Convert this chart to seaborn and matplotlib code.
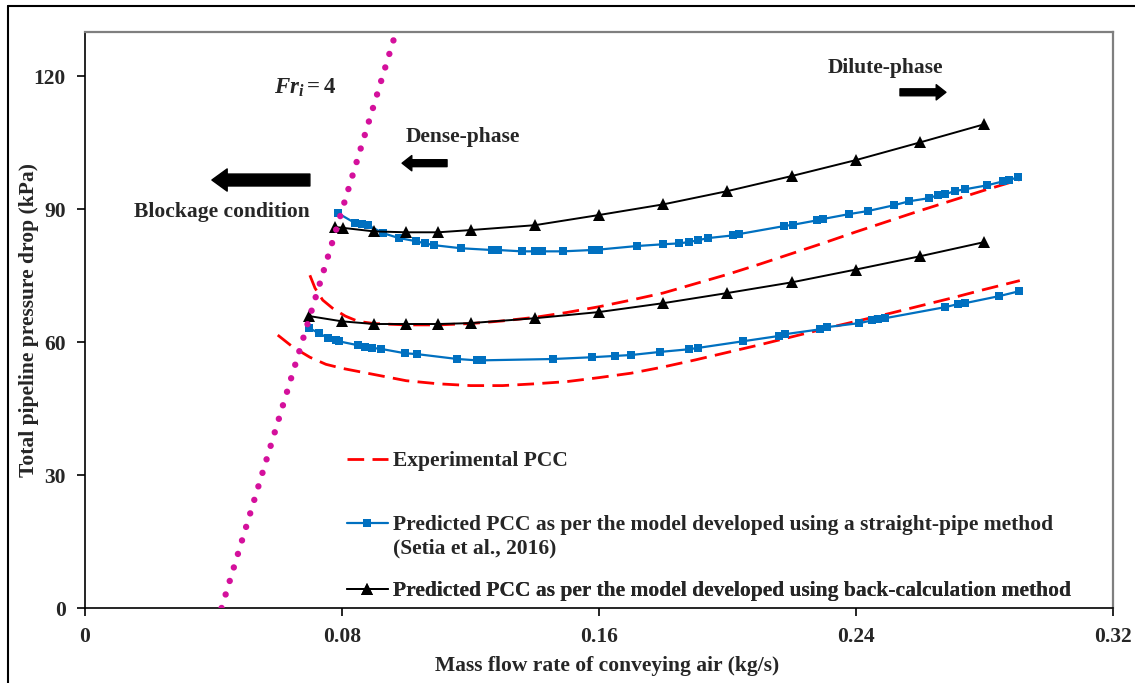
import matplotlib
matplotlib.use("Agg")
import matplotlib.pyplot as plt
from matplotlib.lines import Line2D
import pandas as pd
import seaborn as sns

# Experimental pressure conveying characteristics (two solids flow rates)
exp_hi_air = [0.070, 0.0716, 0.074, 0.077, 0.081, 0.085, 0.090, 0.100, 0.110, 0.120,
              0.130, 0.140, 0.150, 0.160, 0.170, 0.180, 0.190, 0.200, 0.210, 0.220,
              0.230, 0.240, 0.250, 0.260, 0.270, 0.280, 0.291]
exp_hi_dp = [75.1, 72.2, 69.5, 67.7, 65.9, 64.7, 64.2, 63.9, 63.9, 64.2,
             64.8, 65.6, 66.7, 68.0, 69.5, 71.1, 73.2, 75.3, 77.6, 80.0,
             82.4, 84.9, 87.3, 89.7, 92.0, 94.3, 96.7]
exp_lo_air = [0.060, 0.0647, 0.070, 0.075, 0.080, 0.090, 0.100, 0.110, 0.120, 0.130,
              0.140, 0.150, 0.160, 0.170, 0.180, 0.190, 0.200, 0.210, 0.220, 0.230,
              0.240, 0.250, 0.260, 0.270, 0.280, 0.291]
exp_lo_dp = [61.6, 58.9, 56.6, 55.0, 54.1, 52.7, 51.3, 50.6, 50.2, 50.2,
             50.6, 51.1, 52.0, 53.0, 54.4, 56.0, 57.7, 59.4, 61.2, 63.0,
             64.7, 66.4, 68.2, 70.0, 71.9, 73.9]

# Straight-pipe model predictions (Setia et al., 2016)
sp_hi_air = [0.0788, 0.084, 0.0862, 0.0881, 0.0928, 0.0977, 0.103, 0.1058, 0.1086, 0.117,
             0.1267, 0.1286, 0.136, 0.140, 0.1423, 0.1488, 0.1578, 0.160, 0.1718, 0.180,
             0.185, 0.188, 0.1908, 0.194, 0.2017, 0.2036, 0.2176, 0.2204, 0.2279, 0.2297,
             0.2378, 0.2437, 0.2518, 0.2565, 0.2627, 0.2655, 0.2677, 0.2708, 0.2739, 0.2808,
             0.2858, 0.2876, 0.2904]
sp_hi_dp = [89.1, 86.9, 86.6, 86.4, 84.6, 83.5, 82.8, 82.3, 81.9, 81.2,
            80.8, 80.8, 80.5, 80.5, 80.5, 80.5, 80.8, 80.9, 81.7, 82.1,
            82.3, 82.6, 83.0, 83.5, 84.1, 84.4, 86.2, 86.5, 87.5, 87.8,
            88.9, 89.6, 90.9, 91.8, 92.5, 93.2, 93.4, 94.1, 94.5, 95.4,
            96.3, 96.6, 97.2]
sp_lo_air = [0.0697, 0.0729, 0.0757, 0.078, 0.079, 0.085, 0.0872, 0.0893, 0.092, 0.0996,
             0.1034, 0.1159, 0.122, 0.1236, 0.1457, 0.1578, 0.165, 0.170, 0.179, 0.188,
             0.1908, 0.2048, 0.216, 0.2179, 0.2288, 0.231, 0.241, 0.245, 0.2469, 0.249,
             0.2677, 0.2718, 0.2739, 0.2846, 0.2908]
sp_lo_dp = [63.2, 62.0, 60.9, 60.5, 60.2, 59.3, 58.9, 58.7, 58.5, 57.5,
            57.3, 56.2, 55.9, 55.9, 56.2, 56.6, 56.9, 57.1, 57.8, 58.4,
            58.7, 60.2, 61.4, 61.8, 62.9, 63.4, 64.3, 64.9, 65.2, 65.4,
            67.9, 68.6, 68.8, 70.4, 71.5]

# Back-calculation model predictions
bc_hi_air = [0.0778, 0.0803, 0.09, 0.10, 0.11, 0.12, 0.14, 0.16, 0.18, 0.20, 0.22, 0.24, 0.26, 0.28]
bc_hi_dp = [86.0, 85.8, 85.0, 84.8, 84.8, 85.3, 86.4, 88.7, 91.1, 94.1, 97.5, 101.1, 105.1, 109.2]
bc_lo_air = [0.0697, 0.08, 0.09, 0.10, 0.11, 0.12, 0.14, 0.16, 0.18, 0.20, 0.22, 0.24, 0.26, 0.28]
bc_lo_dp = [65.9, 64.7, 64.1, 64.1, 64.1, 64.3, 65.4, 66.8, 68.8, 71.1, 73.5, 76.4, 79.4, 82.6]

# Fr_i = 4 boundary (linear in absolute pressure)
fr4_air = [0.0425, 0.0968]
fr4_dp = [0.0, 130.0]

x_ticks = [0, 0.08, 0.16, 0.24, 0.32]
y_ticks = [0, 30, 60, 90, 120]
x_tick_labels = ["0", "0.08", "0.16", "0.24", "0.32"]
y_tick_labels = ["0", "30", "60", "90", "120"]

legend_labels = [
    "Experimental PCC",
    "Predicted PCC as per the model developed using a straight-pipe method",
    "Predicted PCC as per the model developed using back-calculation method",
]
legend_note = "(Setia et al., 2016)"

RED = "#FF0000"
BLUE = "#0070C0"
PINK = "#D4109C"
FS = 15.5

sns.set_theme(style="white")
plt.rcParams["font.family"] = ["Liberation Serif", "DejaVu Serif"]
plt.rcParams["font.weight"] = "bold"
plt.rcParams["mathtext.fontset"] = "custom"
plt.rcParams["mathtext.rm"] = "Liberation Serif:bold"
plt.rcParams["mathtext.it"] = "Liberation Serif:italic:bold"
plt.rcParams["mathtext.bf"] = "Liberation Serif:bold"

fig = plt.figure(figsize=(11.35, 6.83), dpi=100)
ax = fig.add_axes([0.0749, 0.1098, 0.9057, 0.8433])


def df(x, y):
    return pd.DataFrame({"air": x, "dp": y})


red_dash = (0, (6.0, 3.0))
sns.lineplot(data=df(exp_hi_air, exp_hi_dp), x="air", y="dp", ax=ax, color=RED,
             linewidth=2.0, sort=False)
sns.lineplot(data=df(exp_lo_air, exp_lo_dp), x="air", y="dp", ax=ax, color=RED,
             linewidth=2.0, sort=False)
for ln in ax.lines[:2]:
    ln.set_linestyle(red_dash)

sns.lineplot(data=df(sp_hi_air, sp_hi_dp), x="air", y="dp", ax=ax, color=BLUE,
             linewidth=1.6, marker="s", markersize=6.4, markeredgewidth=0, sort=False)
sns.lineplot(data=df(sp_lo_air, sp_lo_dp), x="air", y="dp", ax=ax, color=BLUE,
             linewidth=1.6, marker="s", markersize=6.4, markeredgewidth=0, sort=False)

sns.lineplot(data=df(bc_hi_air, bc_hi_dp), x="air", y="dp", ax=ax, color="black",
             linewidth=1.4, marker="^", markersize=8, markeredgewidth=0, sort=False)
sns.lineplot(data=df(bc_lo_air, bc_lo_dp), x="air", y="dp", ax=ax, color="black",
             linewidth=1.4, marker="^", markersize=8, markeredgewidth=0, sort=False)

sns.lineplot(data=df(fr4_air, fr4_dp), x="air", y="dp", ax=ax, color=PINK,
             linewidth=4.6, sort=False)
fr_line = ax.lines[-1]
fr_line.set_linestyle((0, (0.01, 2.2)))
fr_line.set_dash_capstyle("round")
fr_line.set_zorder(5)

ax.set_xlim(0, 0.32)
ax.set_ylim(0, 130)
ax.set_xticks(x_ticks)
ax.set_xticklabels(x_tick_labels)
ax.set_yticks(y_ticks)
ax.set_yticklabels(y_tick_labels)
ax.tick_params(axis="both", which="major", direction="out", length=6, width=1.2,
               color="black", labelsize=FS, pad=8, left=True, bottom=True)
for lab in ax.get_xticklabels() + ax.get_yticklabels():
    lab.set_fontweight("bold")

ax.set_xlabel("Mass flow rate of conveying air (kg/s)", fontsize=FS, fontweight="bold")
ax.set_ylabel("Total pipeline pressure drop (kPa)", fontsize=FS, fontweight="bold")
ax.xaxis.set_label_coords(0.508, -0.084)
ax.yaxis.set_label_coords(-0.045, 0.5)

for side in ("left", "bottom"):
    ax.spines[side].set_color("black")
    ax.spines[side].set_linewidth(1.2)
for side in ("top", "right"):
    ax.spines[side].set_color("#7F7F7F")
    ax.spines[side].set_linewidth(1.6)

# Legend: one entry per row, placed at its own height
handles = [ax.lines[0], ax.lines[2], ax.lines[4]]
row_y = [0.2552, 0.1441, 0.0295]
for h, lab, yy in zip(handles, legend_labels, row_y):
    lg = ax.legend([h], [lab], loc="center left", bbox_to_anchor=(0.2546, yy),
                   frameon=False, fontsize=FS, handlelength=1.9, handletextpad=0.25,
                   borderpad=0, borderaxespad=0)
    for t in lg.get_texts():
        t.set_fontweight("bold")
    ax.add_artist(lg)
ax.text(0.2996, 0.1025, legend_note, transform=ax.transAxes, fontsize=FS,
        fontweight="bold", ha="left", va="center")

# Annotations
ax.text(0.0685, 117.5, r"$Fr_i = 4$", fontsize=16.5, ha="center", va="center")
ax.text(0.2492, 121.8, "Dilute-phase", fontsize=FS, fontweight="bold", ha="center", va="center")
ax.text(0.1177, 106.3, "Dense-phase", fontsize=FS, fontweight="bold", ha="center", va="center")
ax.text(0.0427, 89.3, "Blockage condition", fontsize=FS, fontweight="bold",
        ha="center", va="center")

ax.annotate("", xy=(0.0395, 96.6), xytext=(0.0700, 96.6),
            arrowprops=dict(arrowstyle="simple,head_length=11,head_width=16,tail_width=8.6",
                            color="black", mutation_scale=1, shrinkA=0, shrinkB=0))
ax.annotate("", xy=(0.0987, 100.4), xytext=(0.1127, 100.4),
            arrowprops=dict(arrowstyle="simple,head_length=7,head_width=11,tail_width=5",
                            color="black", mutation_scale=1, shrinkA=0, shrinkB=0))
ax.annotate("", xy=(0.2680, 116.4), xytext=(0.2537, 116.4),
            arrowprops=dict(arrowstyle="simple,head_length=7,head_width=11,tail_width=5",
                            color="black", mutation_scale=1, shrinkA=0, shrinkB=0))

# Outer frame
fig.add_artist(Line2D([0.00705, 1.0], [0.9912, 0.9912], transform=fig.transFigure,
                      color="black", linewidth=1.5))
fig.add_artist(Line2D([0.00705, 0.00705], [0.0, 0.9912], transform=fig.transFigure,
                      color="black", linewidth=1.5))

fig.savefig("out.png", dpi=100)
